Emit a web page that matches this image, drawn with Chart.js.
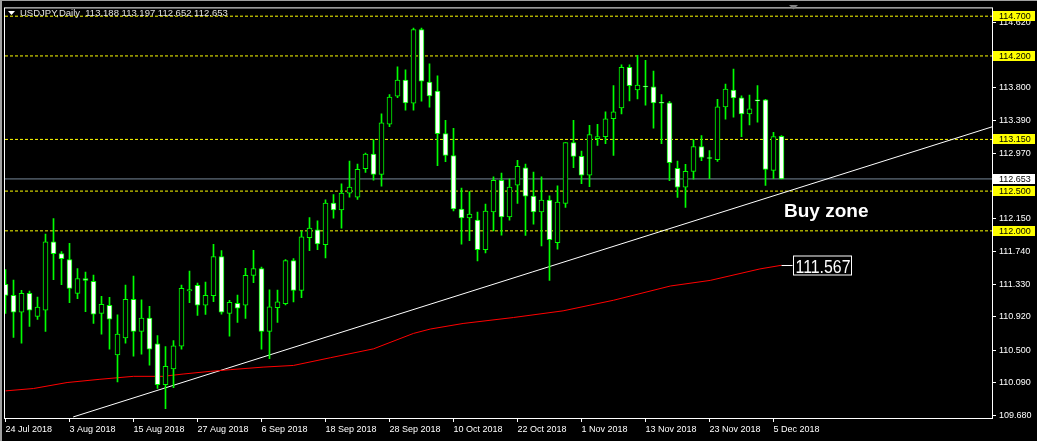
<!DOCTYPE html>
<html>
<head>
<meta charset="utf-8">
<script src="https://cdn.jsdelivr.net/npm/chart.js@4.4.1/dist/chart.umd.min.js"></script>
<style>
  html, body { margin: 0; padding: 0; background: #000; }
  #wrap { width: 1037px; height: 441px; }
</style>
</head>
<body>
<div id="wrap"><canvas id="c" width="1037" height="441"></canvas></div>
<script>
/* ── DATA ────────────────────────────────────────────────── */
const dateIdx = [0, 8, 16, 24, 32, 40, 48, 56, 64, 72, 80, 88, 96];
const dateLabels = ['24 Jul 2018', '3 Aug 2018', '15 Aug 2018', '27 Aug 2018', '6 Sep 2018', '18 Sep 2018',
  '28 Sep 2018', '10 Oct 2018', '22 Oct 2018', '1 Nov 2018', '13 Nov 2018', '23 Nov 2018', '5 Dec 2018'];

const open = [111.326, 111.189, 110.977, 111.214, 110.923, 111.002, 111.863, 111.713, 111.638, 111.214,
  111.401, 111.364, 110.961, 111.064, 110.441, 110.653, 111.139, 110.736, 110.902, 110.578,
  110.066, 110.262, 110.549, 111.245, 111.314, 111.064, 111.185, 111.676, 110.961, 111.089,
  111.064, 111.439, 111.526, 110.736, 111.035, 111.085, 111.626, 111.252, 111.913, 112.013,
  111.826, 112.349, 112.262, 112.474, 112.424, 112.782, 112.965, 112.711, 113.343, 113.693,
  113.896, 113.605, 114.533, 113.871, 113.759, 113.223, 112.948, 112.275, 112.162, 112.137,
  111.763, 112.237, 112.636, 112.175, 112.574, 112.794, 112.437, 112.237, 112.387, 111.850,
  112.345, 113.110, 112.936, 112.699, 113.160, 113.185, 113.410, 113.547, 114.058, 113.772,
  113.822, 113.813, 113.618, 113.609, 112.786, 112.549, 112.749, 113.060, 112.923, 112.894,
  113.560, 113.772, 113.672, 113.472, 113.647, 113.647, 112.761, 113.188];
const high = [111.514, 111.381, 111.252, 111.243, 111.168, 111.958, 112.154, 111.738, 111.842, 111.526,
  111.480, 111.443, 111.177, 111.164, 110.944, 111.318, 111.430, 111.131, 111.052, 110.682,
  110.545, 110.619, 111.318, 111.493, 111.343, 111.356, 111.830, 111.751, 111.127, 111.193,
  111.530, 111.755, 111.545, 111.258, 111.254, 111.638, 111.651, 112.000, 112.166, 112.125,
  112.389, 112.455, 112.591, 112.878, 112.840, 112.977, 113.148, 113.472, 113.713, 114.063,
  114.025, 114.549, 114.549, 114.100, 113.950, 113.389, 113.289, 112.537, 112.495, 112.237,
  112.337, 112.678, 112.728, 112.653, 112.886, 112.840, 112.740, 112.678, 112.441, 112.566,
  113.110, 113.389, 113.002, 113.327, 113.339, 113.497, 113.826, 114.087, 114.087, 114.208,
  114.146, 114.009, 113.713, 113.630, 112.878, 112.836, 113.148, 113.198, 113.011, 113.655,
  113.846, 114.034, 113.697, 113.709, 113.826, 113.655, 113.239, 113.197];
const low = [110.961, 110.661, 110.586, 110.798, 110.886, 110.736, 111.385, 111.322, 111.098, 111.148,
  110.985, 110.836, 110.699, 110.511, 110.100, 110.586, 110.424, 110.449, 110.312, 110.017,
  109.763, 110.029, 110.511, 111.098, 110.936, 110.948, 111.110, 110.952, 110.674, 110.848,
  110.898, 111.347, 110.511, 110.391, 110.848, 111.069, 111.106, 111.160, 111.750, 111.763,
  111.659, 112.158, 112.033, 112.424, 112.395, 112.736, 112.636, 112.562, 113.310, 113.676,
  113.518, 113.518, 113.630, 113.555, 112.819, 112.869, 112.250, 111.834, 111.876, 111.622,
  111.722, 112.000, 111.946, 112.133, 112.345, 111.942, 112.083, 111.809, 111.376, 111.771,
  112.295, 112.794, 112.595, 112.557, 113.073, 113.098, 112.948, 113.472, 113.634, 113.659,
  113.580, 113.293, 113.098, 112.632, 112.420, 112.295, 112.649, 112.882, 112.657, 112.873,
  113.406, 113.431, 113.185, 113.331, 113.368, 112.570, 112.657, 112.652];
const close = [111.189, 110.977, 111.214, 111.002, 111.040, 111.863, 111.713, 111.651, 111.277, 111.401,
  111.376, 110.952, 111.077, 110.890, 110.703, 111.139, 110.736, 110.902, 110.511, 110.066,
  110.295, 110.553, 111.277, 111.260, 111.064, 111.189, 111.676, 110.977, 111.102, 111.027,
  111.439, 111.526, 110.736, 111.044, 111.106, 111.626, 111.252, 111.925, 112.035, 111.836,
  112.349, 112.262, 112.474, 112.549, 112.774, 112.965, 112.711, 113.360, 113.684, 113.896,
  113.609, 114.533, 113.884, 113.697, 113.223, 112.948, 112.275, 112.162, 112.212, 111.763,
  112.250, 112.636, 112.175, 112.549, 112.811, 112.437, 112.237, 112.387, 111.888, 112.362,
  113.110, 112.936, 112.699, 113.210, 113.185, 113.410, 113.497, 114.058, 113.826, 113.834,
  113.810, 113.609, 113.605, 112.857, 112.549, 112.749, 113.060, 112.923, 112.910, 113.560,
  113.784, 113.672, 113.472, 113.535, 113.635, 112.774, 113.185, 112.653];

// moving average, sampled along its curve
const maIdx = [0, 3.5, 7.7, 11.8, 16, 19.7, 22.2, 25.6, 28.1, 32.2, 36, 40.6, 46, 51, 53.1, 57.2, 63.5, 69.7, 76, 83.1, 88.1, 94.3, 97];
const maVal = [109.987, 110.017, 110.092, 110.133, 110.170, 110.170, 110.199, 110.233, 110.254, 110.286, 110.307, 110.404,
  110.516, 110.710, 110.765, 110.835, 110.910, 110.994, 111.127, 111.306, 111.377, 111.521, 111.567];

// trend line end points
const trendIdx = [8.46, 123.375];
const trendVal = [109.659, 113.310];

const levels = [114.700, 114.200, 113.150, 112.500, 112.000];
const bidPrice = 112.653;
const yTicks = [109.680, 110.090, 110.500, 110.920, 111.330, 111.740, 112.150, 112.970, 113.390, 113.800, 114.620];

/* ── STYLE ───────────────────────────────────────────────── */
const GREEN = '#00ff00';
const FONT = '"Liberation Sans", Arial, sans-serif';
const X_MIN = -0.0625, X_MAX = 123.3125;

const idx = open.map((_, i) => i);

/* ── OVERLAY PLUGIN (frame, header, price labels) ────────── */
const mt4Overlay = {
  id: 'mt4Overlay',
  beforeDraw(chart) {
    const ctx = chart.ctx;
    ctx.save();
    ctx.fillStyle = '#000';
    ctx.fillRect(0, 0, chart.width, chart.height);
    ctx.fillStyle = '#a0a0a0';
    ctx.fillRect(0, 0, chart.width, 1);
    ctx.fillRect(0, 0, 2, chart.height);
    ctx.restore();
  },
  afterDraw(chart) {
    const ctx = chart.ctx;
    const ca = chart.chartArea;
    const xs = chart.scales.x, ys = chart.scales.y;
    ctx.save();

    /* frame */
    ctx.strokeStyle = '#ffffff';
    ctx.lineWidth = 1;
    ctx.strokeRect(ca.left - 0.5, ca.top - 0.5, ca.right - ca.left + 1, ca.bottom - ca.top + 1);

    /* shift marker */
    ctx.fillStyle = '#808080';
    ctx.beginPath();
    ctx.moveTo(789, 5); ctx.lineTo(798, 5); ctx.lineTo(793.5, 9.5);
    ctx.closePath(); ctx.fill();

    /* header */
    ctx.fillStyle = '#ffffff';
    ctx.beginPath();
    ctx.moveTo(8, 11); ctx.lineTo(15, 11); ctx.lineTo(11.5, 15);
    ctx.closePath(); ctx.fill();
    ctx.font = '9.5px ' + FONT;
    ctx.textBaseline = 'middle';
    ctx.textAlign = 'left';
    ctx.fillStyle = '#e0e0e0';
    ctx.fillText('USDJPY,Daily  113.188 113.197 112.652 112.653', 20, 13);

    /* price labels on the axis */
    const tag = (v, bg) => {
      const y = Math.round(ys.getPixelForValue(v));
      ctx.fillStyle = bg;
      ctx.fillRect(ca.right + 1, y - 5, 42, 10);
      ctx.fillStyle = '#000';
      ctx.font = '9px ' + FONT;
      ctx.textBaseline = 'middle';
      ctx.fillText(v.toFixed(3), ca.right + 7, y + 0.5);
    };
    levels.forEach(v => tag(v, '#ffff00'));
    tag(bidPrice, '#ffffff');

    /* moving average value box */
    const n = maIdx.length - 1;
    const mx = xs.getPixelForValue(maIdx[n]);
    const my = Math.round(ys.getPixelForValue(maVal[n])) + 0.5;
    ctx.strokeStyle = '#ffffff';
    ctx.beginPath();
    ctx.moveTo(mx, my); ctx.lineTo(mx + 11, my); ctx.stroke();
    const bx = Math.round(mx + 11) + 0.5;
    ctx.strokeRect(bx, my - 9.5, 58, 19);
    ctx.fillStyle = '#ffffff';
    ctx.font = '19px ' + FONT;
    ctx.textBaseline = 'alphabetic';
    const txt = maVal[n].toFixed(3);
    const tw = ctx.measureText(txt).width;
    ctx.save();
    ctx.translate(bx + 2, my + 7);
    ctx.scale(55 / tw, 1);
    ctx.fillText(txt, 0, 0);
    ctx.restore();

    /* buy zone */
    ctx.font = 'bold 19px ' + FONT;
    ctx.fillText('Buy zone', 784, 217);

    ctx.restore();
  }
};

/* ── CHART ───────────────────────────────────────────────── */
const levelSets = levels.map(v => ({
  type: 'line',
  data: [{ x: X_MIN, y: v }, { x: X_MAX, y: v }],
  borderColor: '#ffff00', borderWidth: 1, borderDash: [3, 2],
  pointRadius: 0, order: 5
}));

new Chart(document.getElementById('c').getContext('2d'), {
  type: 'bar',
  data: {
    datasets: [
      ...levelSets,
      {
        type: 'line',
        data: [{ x: X_MIN, y: bidPrice }, { x: X_MAX, y: bidPrice }],
        borderColor: '#778899', borderWidth: 1, pointRadius: 0, order: 4
      },
      {
        type: 'line',
        data: maIdx.map((x, i) => ({ x, y: maVal[i] })),
        borderColor: '#ff0000', borderWidth: 1, pointRadius: 0, order: 3
      },
      {
        type: 'line',
        data: trendIdx.map((x, i) => ({ x, y: trendVal[i] })),
        borderColor: '#ffffff', borderWidth: 1, pointRadius: 0, order: 3
      },
      {
        label: 'wick',
        data: idx.map(i => ({ x: i, y: [low[i], high[i]] })),
        backgroundColor: GREEN, borderWidth: 0,
        barThickness: 1, grouped: false, order: 1
      },
      {
        label: 'body',
        data: idx.map(i => ({ x: i, y: [open[i], close[i]] })),
        backgroundColor: idx.map(i => close[i] >= open[i] ? '#000000' : '#ffffff'),
        borderColor: GREEN, borderWidth: 1, borderSkipped: false,
        barThickness: 5, grouped: false, order: 0
      }
    ]
  },
  options: {
    responsive: false,
    animation: false,
    devicePixelRatio: 1,
    layout: { padding: { left: 5, top: 5, right: 0, bottom: 0 } },
    plugins: { legend: { display: false }, tooltip: { enabled: false } },
    scales: {
      x: {
        type: 'linear', min: X_MIN, max: X_MAX, offset: false,
        afterBuildTicks: s => { s.ticks = dateIdx.map(v => ({ value: v })); },
        afterFit: s => { s.height = 23; },
        border: { display: false },
        grid: { offset: false, drawOnChartArea: false, color: '#ffffff', tickLength: 4 },
        ticks: {
          autoSkip: false, maxRotation: 0, align: 'start', padding: 2,
          color: '#ffffff', font: { family: FONT, size: 9 },
          callback: (v, i) => dateLabels[i]
        }
      },
      y: {
        position: 'right', min: 109.646, max: 114.798,
        afterBuildTicks: s => { s.ticks = yTicks.map(v => ({ value: v })); },
        afterFit: s => { s.width = 45; },
        border: { display: false },
        grid: { drawOnChartArea: false, color: '#ffffff', tickLength: 4 },
        ticks: {
          padding: 3, color: '#ffffff', font: { family: FONT, size: 9 },
          callback: v => Number(v).toFixed(3)
        }
      }
    }
  },
  plugins: [mt4Overlay]
});
</script>
</body>
</html>
